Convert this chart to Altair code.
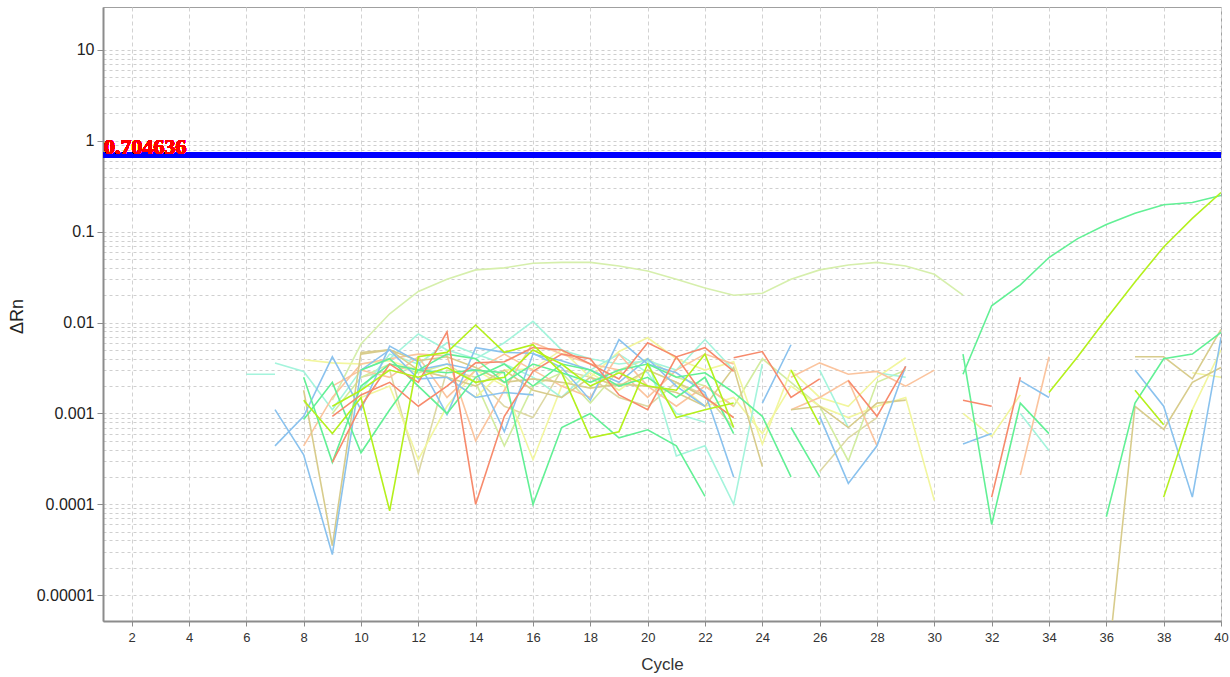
import altair as alt
import pandas as pd

N = None

# ---------------- data ----------------
THRESHOLD = 0.704636
THRESHOLD_LABEL = "0.704636"

X_TICKS = [2, 4, 6, 8, 10, 12, 14, 16, 18, 20, 22, 24, 26, 28, 30, 32, 34, 36, 38, 40]
Y_TICKS = [0.00001, 0.0001, 0.001, 0.01, 0.1, 1, 10]
Y_TICK_LABELS = ["0.00001", "0.0001", "0.001", "0.01", "0.1", "1", "10"]
MINOR_STEPS = [2, 3, 4, 5, 6, 7, 8, 9]

BLUE = "#8ac2ee"
SALMON = "#f78a6c"
LORANGE = "#fbc49e"
TAN = "#d8cc8c"
KHAKI = "#ddd8a4"
YELLOW = "#f2f69e"
LIME = "#b4f01c"
GREEN = "#62f095"
AQUA = "#a4f4dc"
YGREEN = "#d2eca0"
PGREEN = "#d6efac"

# each series: first cycle, then one value per cycle (None = not plotted)
blue_1 = [0.0011, 0.00035, 0.000028, 0.0030, 0.0050, 0.0024, 0.0025, 0.0015, 0.0017, 0.0016,
          N, N, N, N, N, N, N, N, N, N, N, N, N, N, 0.00046, 0.0006]
blue_2 = [0.00044, 0.00093, 0.0042, 0.0011, 0.0055, 0.0037, 0.00097, 0.0053, 0.0047, 0.0046,
          0.0032, 0.0014, 0.0065, 0.0035, 0.0028, 0.0017, 0.0002,
          N, N, N, N, N, N, N, N, N, 0.0023, 0.0015]
blue_3 = [0.0030, 0.0035, 0.0030, 0.00063, 0.0045, 0.0038, 0.0030, 0.0022, 0.0040, 0.0020,
          0.0012, N, 0.0013, 0.0057]
blue_4 = [0.00093, 0.00017, 0.00044, 0.0033, N, N, N, N, N, N, N, 0.0030, 0.0012, 0.00012, 0.0068]

salmon_1 = [0.00029, 0.0012, 0.0035, 0.0022, 0.0079, 0.0001, 0.00093, 0.0029, 0.0045, 0.0040,
            0.0016, 0.0011, 0.0042, 0.0053, 0.0029, N, N, N, N, N, N, N, 0.0014, 0.0012]
salmon_2 = [0.00093, 0.0016, 0.0022, 0.0012, 0.0020, 0.0036, 0.0037, 0.0053, 0.0050, 0.0035,
            0.0024, 0.0060, 0.0042, 0.0015, 0.0009, N, N, N, 0.0023, 0.00093, 0.0033,
            N, N, 0.00012, 0.0025]
salmon_3 = [0.0041, 0.0048, 0.0015, 0.0024]

lorange_1 = [0.00044, 0.0015, 0.0035, 0.0040, 0.0045, 0.0043, 0.0005, 0.0018, 0.0060, 0.0045,
             0.0035, 0.0030, 0.0015, 0.0030, 0.0045, 0.0035, N, 0.0025, 0.0036, 0.0027,
             0.0029, 0.0020, 0.0030, N, N, 0.00021, 0.0042]
lorange_2 = [0.0020, 0.0030, 0.0025, 0.0042, 0.0015, 0.0030, 0.0045, 0.0030, 0.0020, 0.0015,
             0.0045, 0.0020, 0.0012, 0.0020, 0.0012, N, 0.0011, 0.0015, 0.0023, 0.00044]

tan_1 = [0.0018, 0.000035, 0.0047, 0.0050, 0.0038, 0.0042, 0.0032, 0.0022, 0.0024, 0.0022,
         0.0019, 0.0021, 0.0020, 0.0017, 0.0012, 0.0032, 0.00026,
         N, N, N, N, N, N, N, N, N, N, N, 0.0000012, 0.0012, 0.00067, 0.0022, 0.0032]
tan_2 = [0.0045, 0.0050, 0.0030, 0.0025, 0.0020, 0.0030, 0.0018, 0.0015, 0.0025, 0.0020,
         0.0030, 0.0022, 0.0015, 0.0009, N, 0.0011, 0.0012, 0.0007, 0.0013, 0.0014,
         N, N, N, N, N, N, N, 0.0042, 0.0042, 0.0024, 0.0084]
khaki_1 = [0.0025, 0.0030, 0.00022, 0.0030, 0.0025, 0.0012, 0.0009, 0.0030, 0.0025, 0.0015,
           0.0012, 0.0022, 0.0016, 0.0007, N, N, 0.00023, 0.00054, 0.0009]

yellow_1 = [0.0039, 0.0036, 0.0035, 0.0038, 0.0030, 0.0025, 0.0015, 0.0030, 0.0031, 0.0050,
            0.0025, 0.0048, 0.0068, 0.0040, 0.0030, 0.0037, 0.00046, 0.0030, 0.0015, 0.0012,
            0.0025, 0.0041, N, 0.0010, 0.00056, 0.0016, N, N, N, N, N, 0.0028, 0.0025]
yellow_2 = [0.0015, 0.0020, 0.00031, 0.0012, 0.0030, 0.0020, 0.00031, 0.0020, 0.0028, 0.0018,
            0.0030, 0.0022, 0.0012, 0.0015, 0.0006, 0.0020, 0.0012, 0.0009, 0.0012, 0.0015,
            0.00011, N, N, N, N, N, N, N, N, 0.0011, 0.0050]

lime_1 = [0.0014, 0.0006, 0.0015, 0.000085, 0.0042, 0.0047, 0.0094, 0.0047, 0.0057, 0.0028,
          0.00054, 0.00063, 0.0035, 0.0009, 0.0011, 0.0013,
          N, N, N, N, N, N, N, N, N, N, 0.0017, 0.0042, 0.011, 0.028, 0.068, 0.14, 0.27]
lime_2 = [0.0012, 0.0018, 0.0030, 0.0025, 0.0032, 0.0022, 0.0025, 0.0050, 0.0035, 0.0020,
          0.0028, 0.0020, 0.0018, 0.0045, 0.0007, N, 0.0030, 0.00075,
          N, N, N, N, N, N, N, N, N, N, 0.0018, 0.00075]
lime_3 = [0.00012, 0.0011]

green_1 = [0.0025, 0.00029, 0.0020, 0.0035, 0.0030, 0.0028, 0.0030, 0.0028, 0.0001, 0.0007,
           0.0010, 0.00054, 0.00066, 0.00044, 0.000122, N, N, N, N, N, N, N, N,
           0.0045, 0.00006, 0.0013, 0.0006]
green_2 = [0.00086, 0.0022, 0.00037, 0.0011, 0.0030, 0.0045, 0.0040, 0.0022, 0.0035, 0.0028,
           0.0022, 0.0030, 0.0035, 0.0025, 0.0028, 0.0017, 0.00093, 0.0002, N, N, N, N, N,
           0.0027, 0.0153, 0.026, 0.052, 0.084, 0.12, 0.16, 0.198, 0.21, 0.25]
green_3 = [0.0030, 0.0040, 0.0020, 0.0010, 0.0025, 0.0035, 0.0020, 0.0035, 0.0030, 0.0020,
           0.0025, 0.0015, 0.0025, 0.0006, N, 0.0007, 0.0002, N, N, N, N, N, N, N, N, N,
           0.000073, 0.0013, 0.0040, 0.0045, 0.0078]

aqua_1 = [0.0027, 0.0027, N, N, N, N, N, N, N, N, N, N, N, N, 0.0040, 0.00034, 0.00044, 0.0001,
          0.0035, N, N, N, 0.0028, 0.0025, N, N, N, 0.0010, 0.00039]
aqua_2 = [0.0036, 0.0029, 0.0011, 0.0030, 0.0040, 0.0075, 0.0050, 0.0040, 0.0060, 0.0103,
          0.0050, 0.0040, 0.0035, 0.0038, 0.0030, 0.0065, 0.0030, N, N, 0.0030, 0.0007]
aqua_3 = [0.0018, 0.0045, 0.0035, 0.0060, 0.0045, 0.0035, 0.0025, 0.0015, 0.0030, 0.0045,
          0.0028, 0.0010, 0.0008]

ygreen_1 = [0.0010, 0.0025, 0.0035, 0.0028, 0.0035, 0.0022, 0.00044, 0.0020, 0.0028, 0.0013,
            0.0030, 0.0040, 0.0025, 0.0020, 0.0012, 0.0040, 0.0022, 0.0012, 0.0003, 0.0022, 0.0030]

pgreen_curve = [0.0014, 0.0058, 0.0125, 0.022, 0.030, 0.038, 0.040, 0.045, 0.046, 0.046,
                0.042, 0.037, 0.030, 0.024, 0.020, 0.021, 0.030, 0.038, 0.043, 0.046,
                0.042, 0.034, 0.020]

SERIES = [
    ("pgreen_curve", PGREEN, 9, pgreen_curve),
    ("khaki_1", KHAKI, 10, khaki_1),
    ("ygreen_1", YGREEN, 9, ygreen_1),
    ("yellow_1", YELLOW, 8, yellow_1),
    ("yellow_2", YELLOW, 10, yellow_2),
    ("aqua_1", AQUA, 6, aqua_1),
    ("aqua_2", AQUA, 7, aqua_2),
    ("aqua_3", AQUA, 10, aqua_3),
    ("lorange_1", LORANGE, 8, lorange_1),
    ("lorange_2", LORANGE, 9, lorange_2),
    ("tan_1", TAN, 8, tan_1),
    ("tan_2", TAN, 10, tan_2),
    ("blue_1", BLUE, 7, blue_1),
    ("blue_2", BLUE, 7, blue_2),
    ("blue_3", BLUE, 12, blue_3),
    ("blue_4", BLUE, 26, blue_4),
    ("green_1", GREEN, 8, green_1),
    ("green_2", GREEN, 8, green_2),
    ("green_3", GREEN, 10, green_3),
    ("salmon_1", SALMON, 9, salmon_1),
    ("salmon_2", SALMON, 9, salmon_2),
    ("salmon_3", SALMON, 23, salmon_3),
    ("lime_2", LIME, 9, lime_2),
    ("lime_3", LIME, 38, lime_3),
    ("lime_1", LIME, 8, lime_1),
]

rows = []
for order, (name, color, start, vals) in enumerate(SERIES):
    for i, v in enumerate(vals):
        rows.append({"series": name, "order": order, "cycle": start + i, "dRn": v})
df = pd.DataFrame(rows)

names = [s[0] for s in SERIES]
colors = [s[1] for s in SERIES]

# ---------------- axes ----------------
grid_values = Y_TICKS + [m * t for t in Y_TICKS[:-1] for m in MINOR_STEPS]
major_list = "[" + ",".join(Y_TICK_LABELS) + "]"
major_test = f"indexof({major_list}, datum.value) >= 0"
label_expr = " : ".join(f"datum.value == {l} ? '{l}'" for l in Y_TICK_LABELS) + " : ''"

sans = "Liberation Sans, Arial, sans-serif"
narrow = "Liberation Sans Narrow, Arial Narrow, Liberation Sans, sans-serif"

x_enc = alt.X(
    "cycle:Q",
    scale=alt.Scale(domain=[1, 40], nice=False, zero=False),
    axis=alt.Axis(
        values=X_TICKS, grid=True, gridColor="#d2d2d2", gridDash=[4, 3], gridWidth=1,
        labelFont=narrow, labelFontSize=13, labelColor="#333333", labelPadding=5,
        labelFlush=False, labelOverlap=False,
        tickColor="#8c8c8c", tickSize=5, domainColor="#8c8c8c", domainWidth=2,
        title="Cycle", titleFont=sans, titleFontSize=17, titleFontWeight="normal",
        titleColor="#333333", titleY=43, titleBaseline="middle",
    ),
)
y_enc = alt.Y(
    "dRn:Q",
    scale=alt.Scale(type="log", domain=[0.0000052, 29.7], nice=False),
    axis=alt.Axis(
        values=grid_values, labelExpr=label_expr, grid=True, gridColor="#cfcfcf",
        gridDash=[3, 3], gridWidth=1,
        labelFont=sans, labelFontSize=16, labelColor="#222222", labelPadding=3,
        labelFlush=False, labelOverlap=False,
        tickColor="#8c8c8c", tickSize=6,
        tickOpacity={"condition": {"test": major_test, "value": 1}, "value": 0},
        domainColor="#8c8c8c", domainWidth=2,
        title="ΔRn", titleFont=sans, titleFontSize=18, titleFontWeight="normal",
        titleColor="#222222", titleX=-86, titleY=309, titleAlign="center",
        titleBaseline="middle", titleAngle=-90,
    ),
)

lines = alt.Chart(df).mark_line(
    strokeWidth=1.6, clip=True, invalid="break-paths-filter-domains"
).encode(
    x=x_enc,
    y=y_enc,
    color=alt.Color("series:N", scale=alt.Scale(domain=names, range=colors), legend=None),
    detail="series:N",
    order="cycle:Q",
)

threshold = alt.Chart(df).mark_rule(color="#0000ff", strokeWidth=5).encode(
    y=alt.datum(THRESHOLD)
)

label = alt.Chart(df).mark_text(
    text=THRESHOLD_LABEL, color="#ff0000", font="Liberation Serif",
    fontWeight="bold", fontSize=22, align="left", baseline="alphabetic", dx=1, dy=-1,
).encode(x=alt.datum(1), y=alt.datum(THRESHOLD))

chart = (
    alt.layer(lines, threshold, label)
    .properties(
        width=1118,
        height=614,
        autosize=alt.AutoSizeParams(type="none"),
        padding={"left": 103, "top": 7, "right": 9, "bottom": 56},
        background="white",
    )
    .configure_view(stroke="#a0a0a0", strokeWidth=1)
)

chart.save("out.html", embed_options={"renderer": "svg", "actions": False})
